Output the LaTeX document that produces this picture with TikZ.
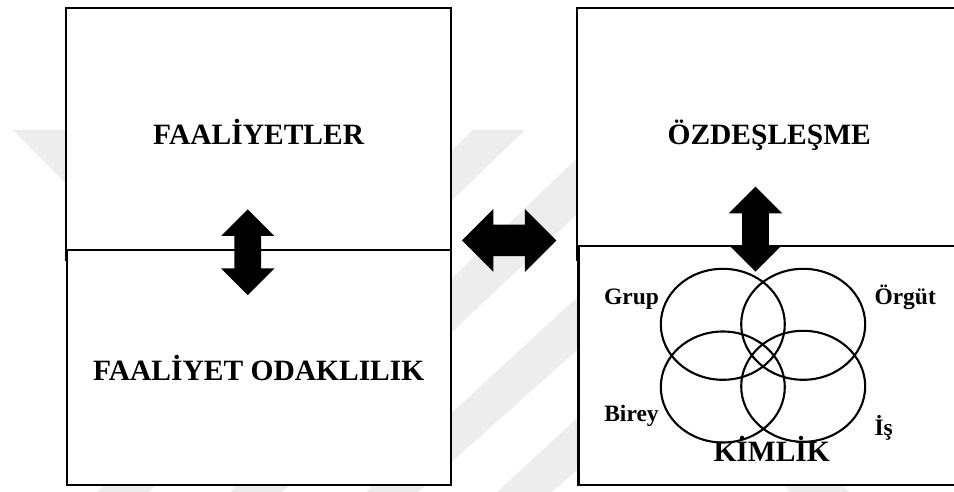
\documentclass[tikz,border=0pt]{standalone}
\usepackage{fontspec}
\setmainfont{Liberation Serif}
\usetikzlibrary{shapes.geometric,shapes.arrows}
\definecolor{wm}{HTML}{EDEDED}
\tikzset{
  panelup/.style={draw=black,fill=white,line width=2pt,rectangle,inner sep=0pt},
  panellow/.style={draw=black,fill=white,line width=2.4pt,rectangle,inner sep=0pt},
  ring/.style={draw=black,line width=2.1pt,ellipse,inner sep=0pt,minimum width=124pt,minimum height=111pt},
  bigarrow/.style={double arrow,fill=black,draw=none,inner xsep=0pt,inner ysep=13.2pt,double arrow head extend=13.2pt,double arrow tip angle=90},
  biglabel/.style={font=\bfseries\fontsize{29.5}{34}\selectfont,anchor=base,inner sep=0pt},
  smalllabel/.style={font=\bfseries\fontsize{23.5}{28}\selectfont,anchor=base,inner sep=0pt},
  mark stripe/.style={fill=wm,draw=none}
}
\begin{document}
\begin{tikzpicture}[x=1pt,y=-1pt]
\useasboundingbox (0,0) rectangle (954,492);
% faint background stripes
\fill[mark stripe] (13,130)--(116,130)--(300,320)--(240,360)--cycle;
\fill[mark stripe] (473,130)--(525,130)--(149,492)--(97,492)--cycle;
\fill[mark stripe] (600,136)--(660,136)--(282,492)--(230,492)--cycle;
\fill[mark stripe] (600,276)--(660,276)--(418,492)--(366,492)--cycle;
\fill[mark stripe] (600,397)--(660,397)--(552,492)--(497,492)--cycle;
\fill[mark stripe] (780,480)--(835,480)--(850,492)--(790,492)--cycle;
% panels
\node[panelup,minimum width=385pt,minimum height=252pt] (actTop) at (258,134) {};
\node[panellow,minimum width=384pt,minimum height=235pt] (actLow) at (258.8,367.5) {};
\node[panelup,minimum width=390pt,minimum height=252pt] (idTop) at (772,134) {};
\node[panellow,minimum width=390pt,minimum height=239.5pt] (idLow) at (773.5,365.5) {};
% circles
\node[ring] (grup) at (722.8,324.3) {};
\node[ring] (orgut) at (803.2,324.3) {};
\node[ring] (birey) at (722.8,387) {};
\node[ring] (is) at (803.2,386.3) {};
% arrows
\node[bigarrow,rotate=90,minimum height=85.7pt] (arrLeft) at (247.7,252.2) {};
\node[bigarrow,rotate=90,minimum height=85pt] (arrRight) at (755.5,229.2) {};
\node[bigarrow,minimum height=94.3pt,inner ysep=15.6pt,double arrow head extend=15.6pt] (arrMid) at (509.2,240.4) {};
% labels
\node[biglabel] (t1) at (258.7,145) {FAALİYETLER};
\node[biglabel] (t2) at (258.7,380) {FAALİYET ODAKLILIK};
\node[biglabel] (t3) at (769.2,145) {ÖZDEŞLEŞME};
\node[biglabel] (t4) at (771.7,461.7) {KİMLİK};
\node[smalllabel] (l1) at (631.5,304) {Grup};
\node[smalllabel] (l2) at (905.2,304) {Örgüt};
\node[smalllabel] (l3) at (631.5,421) {Birey};
\node[smalllabel,anchor=base west] (l4) at (874.3,435) {İş};
\end{tikzpicture}
\end{document}
